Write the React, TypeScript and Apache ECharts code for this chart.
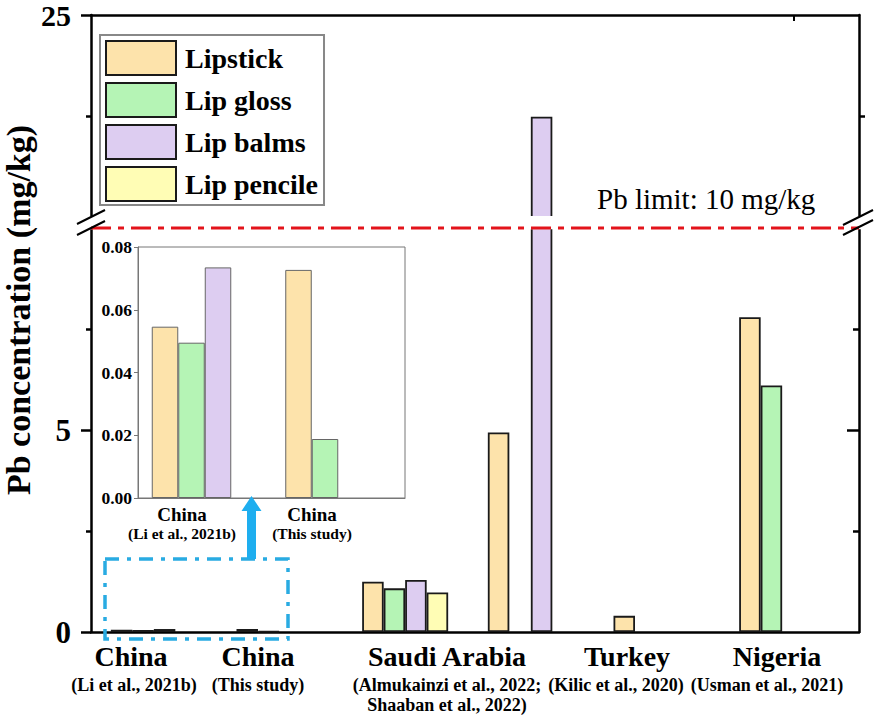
import React, { useEffect, useRef } from 'react';
import * as echarts from 'echarts';

// ---------- data ----------
const groups = ['China (Li et al., 2021b)', 'China (This study)', 'Saudi Arabia (Almukainzi)', 'Saudi Arabia (Shaaban)', 'Turkey', 'Nigeria'];
const products = ['Lipstick', 'Lip gloss', 'Lip balms', 'Lip pencile'];
const lipstick = [0.0546, 0.0727, 1.245, 4.94, 0.4, 7.79];
const lipGloss = [0.0495, 0.0188, 1.08, null, null, 6.1];
const lipBalms = [0.0735, null, 1.29, 22.48, null, null];
const lipPencile = [null, null, 0.98, null, null, null];

const insetGroups = ['China (Li et al., 2021b)', 'China (This study)'];
const insetLipstick = [0.0546, 0.0727];
const insetLipGloss = [0.0495, 0.0188];
const insetLipBalms = [0.0735, null];
const insetLipPencile = [null, null];

const countryNames = ['China', 'China', 'Saudi Arabia', 'Turkey', 'Nigeria'];
const countryRefs = [
  ['(Li et al., 2021b)'],
  ['(This study)'],
  ['(Almukainzi et al., 2022;', 'Shaaban et al., 2022)'],
  ['(Kilic et al., 2020)'],
  ['(Usman et al., 2021)'],
];
const insetNames = ['China', 'China'];
const insetRefs = ['(Li et al., 2021b)', '(This study)'];

const lowerTickLabels = [0, 5];
const upperTickLabels = [25];
const insetTicks = [0, 0.02, 0.04, 0.06, 0.08];
const limitValue = 10;
const limitLabel = 'Pb limit: 10 mg/kg';
const yTitle = 'Pb concentration (mg/kg)';

// ---------- styles ----------
const FONT = '"Liberation Serif", "Times New Roman", Times, serif';
const colors = ['#FDE3AB', '#B5F4B5', '#DDCDF1', '#FFFDB5'];
const mainData = [lipstick, lipGloss, lipBalms, lipPencile];
const insetData = [insetLipstick, insetLipGloss, insetLipBalms, insetLipPencile];

const toBar = (arr: (number | null)[]) => arr.map((v) => (v == null ? '-' : v));

function textEl(text: string, x: number, y: number, size: number, bold = true, align = 'center') {
  return {
    type: 'text',
    x,
    y,
    z: 50,
    style: {
      text,
      fontFamily: FONT,
      fontSize: size,
      fontWeight: bold ? 'bold' : 'normal',
      fill: '#000',
      align,
      textAlign: align,
      verticalAlign: 'middle',
      textVerticalAlign: 'middle',
    },
  };
}

function buildGraphic(yLimit: number) {
  const els: any[] = [];
  // y-axis title
  els.push({
    type: 'text',
    x: 18,
    y: 310,
    rotation: Math.PI / 2,
    style: {
      text: yTitle,
      fontFamily: FONT,
      fontSize: 34,
      fontWeight: 'bold',
      fill: '#000',
      align: 'center',
      textAlign: 'center',
      verticalAlign: 'middle',
      textVerticalAlign: 'middle',
    },
  });
  // main category labels
  const nameX = [131, 258, 447, 627, 777];
  const refX = [134, 258, 447, 616, 767];
  countryNames.forEach((n, i) => {
    els.push(textEl(n, nameX[i], 656, 28));
    countryRefs[i].forEach((r, j) => {
      els.push(textEl(r, refX[i], 685 + j * 19.5, 18));
    });
  });
  // inset labels
  const insetX = [182, 312];
  insetNames.forEach((n, i) => {
    els.push(textEl(n, insetX[i], 514, 19));
    els.push(textEl(insetRefs[i], insetX[i], 533, 15.5));
  });
  // white band hiding the axis break (and the clipped bar edges)
  els.push({
    type: 'rect',
    z: 55,
    shape: { x: 84, y: 216, width: 782, height: yLimit + 1.3 - 216 },
    style: { fill: '#fff' },
  });
  // limit line + label
  els.push({
    type: 'line',
    z: 60,
    shape: { x1: 91, y1: yLimit, x2: 859, y2: yLimit },
    style: { stroke: '#E3141B', lineWidth: 3, lineDash: [20, 7, 6, 7] },
  });
  els.push(textEl(limitLabel, 597, 199, 29, false, 'left'));
  // break marks
  const brk = (x1: number, y1: number, x2: number, y2: number) => ({
    type: 'line',
    z: 70,
    shape: { x1, y1, x2, y2 },
    style: { stroke: '#000', lineWidth: 2 },
  });
  els.push(brk(77, 224, 105, 210), brk(77, 235, 105, 221));
  els.push(brk(843, 225, 873, 210), brk(843, 235, 873, 220));
  // top axis tick
  els.push({ type: 'line', shape: { x1: 794, y1: 15, x2: 794, y2: 21 }, style: { stroke: '#000', lineWidth: 2 } });
  // zoom box + arrow
  els.push({
    type: 'rect',
    z: 40,
    shape: { x: 105, y: 559, width: 183, height: 80 },
    style: { fill: 'none', stroke: '#29ABE2', lineWidth: 3.5, lineDash: [14, 8, 4, 8] },
  });
  els.push({
    type: 'polygon',
    z: 40,
    shape: {
      points: [
        [247, 559],
        [247, 511],
        [241.5, 511],
        [251.5, 496],
        [261.5, 511],
        [256, 511],
        [256, 559],
      ],
    },
    style: { fill: '#1EAEEF' },
  });
  return els;
}

const axisBlack = { color: '#000', width: 2.5 };

const option: any = {
  animation: false,
  backgroundColor: '#fff',
  legend: {
    data: products,
    orient: 'vertical',
    left: 100,
    top: 35,
    itemWidth: 70,
    itemHeight: 34,
    itemGap: 6,
    padding: [5, 6, 3, 5],
    borderColor: '#888',
    borderWidth: 2,
    icon: 'rect',
    selectedMode: false,
    textStyle: { fontFamily: FONT, fontSize: 28, fontWeight: 'bold', color: '#000', padding: [0, 0, 0, 4] },
  },
  grid: [
    { left: 91, top: 228, width: 754, height: 404 },
    { left: 91, top: 15, width: 754, height: 202 },
    { left: 138, top: 247, width: 267, height: 251, show: true, borderColor: '#777', borderWidth: 1, backgroundColor: '#fff', z: 5 },
    { left: 91, top: 15, width: 768, height: 617 },
  ],
  xAxis: [
    { type: 'category', gridIndex: 0, data: groups, axisLine: { show: false }, axisTick: { show: false }, axisLabel: { show: false } },
    { type: 'category', gridIndex: 1, data: groups, axisLine: { show: false }, axisTick: { show: false }, axisLabel: { show: false } },
    {
      type: 'category',
      gridIndex: 2,
      data: insetGroups,
      z: 6,
      axisLine: { lineStyle: { color: '#777', width: 1 } },
      axisTick: { show: false },
      axisLabel: { show: false },
    },
    { type: 'value', gridIndex: 3, min: 0, max: 1, position: 'bottom', axisLine: { lineStyle: axisBlack }, axisTick: { show: false }, axisLabel: { show: false }, splitLine: { show: false } },
    { type: 'value', gridIndex: 3, min: 0, max: 1, position: 'top', axisLine: { lineStyle: axisBlack }, axisTick: { show: false }, axisLabel: { show: false }, splitLine: { show: false } },
  ],
  yAxis: [
    {
      type: 'value',
      gridIndex: 0,
      min: 0,
      max: 10,
      interval: 5,
      axisLine: { show: true, lineStyle: axisBlack },
      axisTick: { show: true, length: 10, lineStyle: axisBlack, customValues: lowerTickLabels },
      minorTick: { show: true, splitNumber: 2, length: 5, lineStyle: axisBlack },
      axisLabel: { customValues: lowerTickLabels, fontFamily: FONT, fontSize: 31, fontWeight: 'bold', color: '#000', margin: 20 },
      splitLine: { show: false },
    },
    {
      type: 'value',
      gridIndex: 0,
      position: 'right',
      offset: 14,
      min: 0,
      max: 10,
      interval: 5,
      axisLine: { show: true, lineStyle: axisBlack },
      axisTick: { show: true, inside: true, length: 12, lineStyle: axisBlack, customValues: [5] },
      minorTick: { show: true, splitNumber: 2, length: 6, lineStyle: axisBlack },
      axisLabel: { show: false },
      splitLine: { show: false },
    },
    {
      type: 'value',
      gridIndex: 1,
      min: 20,
      max: 25,
      interval: 5,
      axisLine: { show: true, lineStyle: axisBlack },
      axisTick: { show: true, length: 10, lineStyle: axisBlack, customValues: upperTickLabels },
      minorTick: { show: true, splitNumber: 2, length: 5, lineStyle: axisBlack },
      axisLabel: {
        customValues: upperTickLabels,
        fontFamily: FONT,
        fontSize: 30,
        fontWeight: 'bold',
        color: '#000',
        margin: 20,
        padding: [4, 0, 0, 0],
      },
      splitLine: { show: false },
    },
    {
      type: 'value',
      gridIndex: 1,
      position: 'right',
      offset: 14,
      min: 20,
      max: 25,
      interval: 5,
      axisLine: { show: true, lineStyle: axisBlack },
      axisTick: { show: false, customValues: [] },
      minorTick: { show: true, splitNumber: 2, length: 6, lineStyle: axisBlack },
      axisLabel: { show: false },
      splitLine: { show: false },
    },
    {
      type: 'value',
      gridIndex: 2,
      min: 0,
      max: 0.08,
      interval: 0.02,
      z: 6,
      axisLine: { show: true, lineStyle: { color: '#777', width: 1 } },
      axisTick: { show: true, length: 4, lineStyle: { color: '#777', width: 1 }, customValues: insetTicks },
      axisLabel: {
        customValues: insetTicks,
        formatter: (v: number) => v.toFixed(2),
        fontFamily: FONT,
        fontSize: 17.5,
        fontWeight: 'bold',
        color: '#000',
        margin: 6,
      },
      splitLine: { show: false },
    },
    { type: 'value', gridIndex: 3, min: 0, max: 1, show: false },
  ],
  series: [
    ...products.map((p, i) => ({
      type: 'bar',
      name: p,
      xAxisIndex: 0,
      yAxisIndex: 0,
      data: toBar(mainData[i]),
      barWidth: 21.5,
      barGap: '0%',
      itemStyle: { color: colors[i], borderColor: '#1a1a1a', borderWidth: 1.8 },
    })),
    ...products.map((p, i) => ({
      type: 'bar',
      name: p,
      xAxisIndex: 1,
      yAxisIndex: 2,
      data: toBar(mainData[i]),
      barWidth: 21.5,
      barGap: '0%',
      itemStyle: { color: colors[i], borderColor: '#1a1a1a', borderWidth: 1.8 },
    })),
    ...products.map((p, i) => ({
      type: 'bar',
      name: p,
      xAxisIndex: 2,
      yAxisIndex: 4,
      z: 8,
      data: toBar(insetData[i]),
      barWidth: 26.5,
      barGap: '0%',
      itemStyle: { color: colors[i], borderColor: '#666', borderWidth: 1 },
    })),
  ],
};

export default function App() {
  const ref = useRef<HTMLDivElement>(null);
  useEffect(() => {
    const chart = echarts.init(ref.current as HTMLDivElement, null, { renderer: 'svg' });
    chart.setOption(option);
    const yLimit = chart.convertToPixel({ yAxisIndex: 0 }, limitValue) as number;
    chart.setOption({ graphic: buildGraphic(yLimit) });
    return () => chart.dispose();
  }, []);
  return (
    <div
      ref={ref}
      style={{ position: 'fixed', left: 0, top: 0, width: 878, height: 720, background: '#fff' }}
    />
  );
}
